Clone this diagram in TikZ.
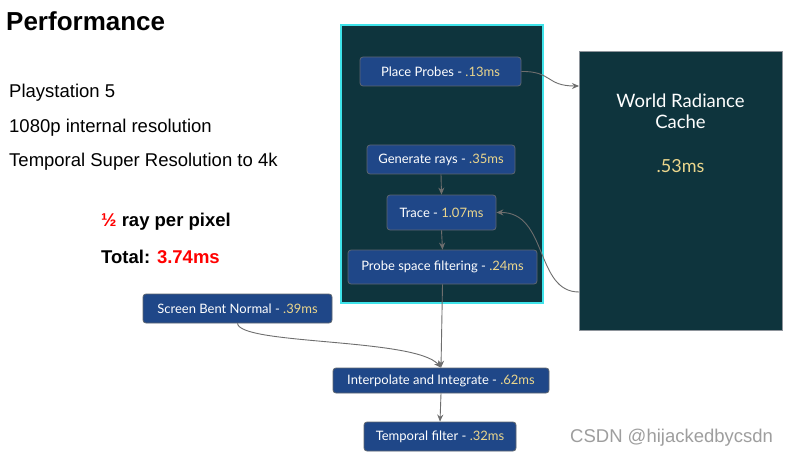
\documentclass[tikz,border=0pt]{standalone}
\usepackage{fontspec}
\setmainfont{Liberation Sans}
\newfontfamily\nodefont{Lato}
\usetikzlibrary{arrows.meta}
\definecolor{darkbg}{HTML}{0E343D}
\definecolor{cyanedge}{HTML}{3FE3EA}
\definecolor{nodeblue}{HTML}{1F4788}
\definecolor{nodeedge}{HTML}{5E6670}
\definecolor{numyellow}{HTML}{EBD68C}
\definecolor{linegray}{HTML}{6E6E6E}
\definecolor{hotred}{HTML}{FF0000}
\tikzset{
  x=1pt, y=-1pt,
  stage/.style={draw=nodeedge, line width=0.8pt, fill=nodeblue, rounded corners=3pt,
    text=white, font=\nodefont\fontsize{13}{15}\selectfont, inner sep=0pt},
  conn/.style={draw=linegray, line width=0.9pt, -{Stealth[length=7pt,width=6pt]}},
  info/.style={anchor=west, font=\fontsize{18.5}{20}\selectfont, inner sep=0pt},
}
\newcommand{\num}[1]{\textcolor{numyellow}{#1}}
\begin{document}
\begin{tikzpicture}
\useasboundingbox (0,0) rectangle (789,457);
\fill[white] (0,0) rectangle (789,457);

% big boxes
\node[draw=cyanedge, line width=1.6pt, fill=darkbg, minimum width=202pt, minimum height=278pt, inner sep=0pt] (group) at (442,164) {};
\node[draw=nodeedge!70, line width=0.8pt, fill=darkbg, minimum width=203pt, minimum height=279pt, inner sep=0pt] (cache) at (680.5,190.5) {};
\node[text=white, font=\nodefont\fontsize{18.5}{21}\selectfont, align=center, anchor=north, inner sep=0pt] (cachetxt) at (680.5,94) {World Radiance\\Cache};
\node[text=numyellow, font=\nodefont\fontsize{18}{20}\selectfont, inner sep=0pt] (cachems) at (680.5,166) {.53ms};

% left texts
\node[font=\bfseries\fontsize{26}{28}\selectfont, anchor=west, inner sep=0pt] (title) at (6,21) {Performance};
\node[info] (ps5) at (9,93) {Playstation 5};
\node[info] (res) at (9,128) {1080p internal resolution};
\node[info] (tsr) at (9,162) {Temporal Super Resolution to 4k};
\node[info, font=\bfseries\fontsize{18.5}{20}\selectfont] (ray) at (101,222) {\textcolor{hotred}{½} ray per pixel};
\node[info, font=\bfseries\fontsize{18.5}{20}\selectfont] (total) at (101,257) {Total: \textcolor{hotred}{3.74ms}};

% stage nodes
\node[stage, minimum width=161pt, minimum height=29pt] (pp) at (440.5,71.5) {Place Probes - \num{.13ms}};
\node[stage, minimum width=148pt, minimum height=29pt] (gr) at (441,159.5) {Generate rays - \num{.35ms}};
\node[stage, minimum width=109pt, minimum height=35pt] (tr) at (441.5,212.5) {Trace - \num{1.07ms}};
\node[stage, minimum width=189pt, minimum height=34pt] (psf) at (442.5,267) {Probe space filtering - \num{.24ms}};
\node[stage, minimum width=189pt, minimum height=29pt] (sbn) at (237.5,308.5) {Screen Bent Normal - \num{.39ms}};
\node[stage, minimum width=216pt, minimum height=25pt] (ii) at (441,380.5) {Interpolate and Integrate - \num{.62ms}};
\node[stage, minimum width=152pt, minimum height=29pt] (tf) at (440,436.5) {Temporal filter - \num{.32ms}};

\coordinate (cin) at (579,86);
\coordinate (cout) at (579,292);

% connectors
\draw[conn] (pp.east) .. controls (552,71) and (546,86) .. (cin);
\draw[conn] (gr.south) -- (tr.north);
\draw[conn] (tr.south) -- (psf.north);
\draw[conn] (psf.south) -- (ii.north);
\draw[conn] (sbn.south) .. controls (240,345) and (415,338) .. (ii.north);
\draw[conn] (ii.south) -- (tf.north);
\draw[conn] (cout) .. controls (535,292) and (548,212) .. (tr.east);

% watermark
\node[text=black!38, font=\fontsize{18.5}{20}\selectfont, anchor=west, inner sep=0pt] (wm) at (570,438) {CSDN @hijackedbycsdn};
\end{tikzpicture}
\end{document}
